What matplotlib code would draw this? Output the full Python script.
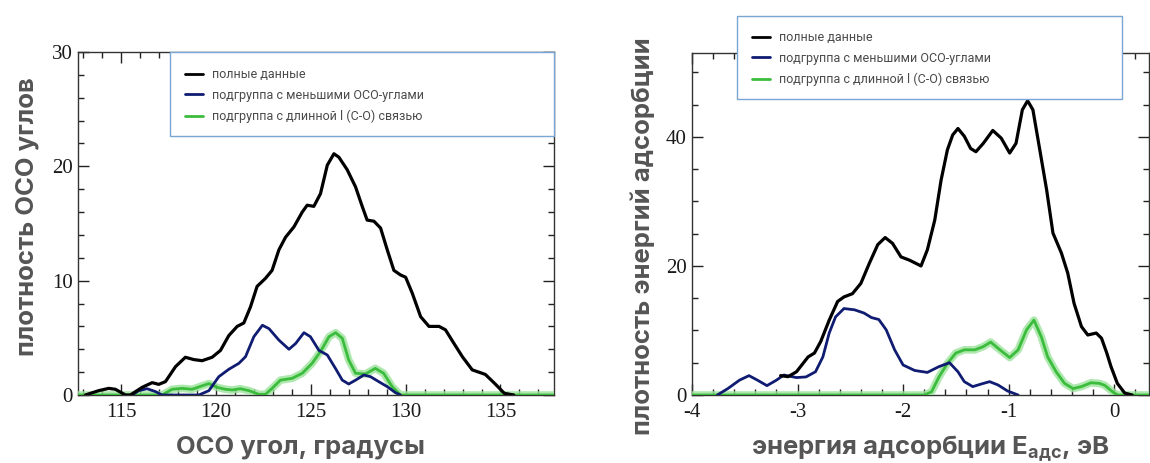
import matplotlib
matplotlib.use("Agg")
import matplotlib.pyplot as plt
import matplotlib.patheffects as pe
from matplotlib.patches import Rectangle
from matplotlib.ticker import MultipleLocator

# ---------------- data: left panel (OCO angle, degrees) ----------------
ang_total_x = [113.12, 113.82, 114.35, 114.70, 115.23, 115.49, 116.11, 116.64, 116.99, 117.34,
               117.87, 118.39, 118.83, 119.27, 119.80, 120.24, 120.68, 121.12, 121.47, 121.82,
               122.17, 122.61, 122.96, 123.32, 123.67, 124.11, 124.55, 124.81, 125.16, 125.51,
               125.87, 126.22, 126.48, 126.92, 127.36, 127.71, 127.97, 128.33, 128.68, 129.03,
               129.38, 129.73, 130.00, 130.35, 130.79, 131.23, 131.76, 132.10, 132.55, 132.99,
               133.51, 134.20, 134.70, 135.20, 135.70]
ang_total_y = [0.0, 0.38, 0.58, 0.5, 0.0, 0.0, 0.67, 1.08, 0.93, 1.17,
               2.48, 3.3, 3.1, 3.0, 3.3, 3.9, 5.2, 6.0, 6.3, 7.7,
               9.5, 10.2, 10.9, 12.7, 13.8, 14.7, 16.0, 16.6, 16.5, 17.6,
               20.1, 21.1, 20.8, 19.7, 18.2, 16.5, 15.3, 15.2, 14.6, 12.7,
               10.9, 10.5, 10.3, 8.9, 6.85, 6.0, 6.0, 5.7, 4.5, 3.35,
               2.2, 1.8, 1.0, 0.15, 0.0]

ang_small_x = [115.58, 115.93, 116.37, 116.81, 117.16, 119.10, 119.63, 120.15, 120.68, 121.21,
               121.56, 122.00, 122.45, 122.80, 123.32, 123.85, 124.20, 124.64, 124.98, 125.43,
               125.87, 126.31, 126.66, 127.00, 127.36, 127.80, 128.15, 128.60, 129.03, 129.47,
               129.73]
ang_small_y = [0.0, 0.38, 0.55, 0.3, 0.0, 0.0, 0.38, 1.6, 2.25, 2.77,
               3.35, 5.1, 6.1, 5.8, 4.8, 4.0, 4.5, 5.45, 5.1, 3.9,
               3.5, 2.3, 1.3, 0.96, 1.3, 1.75, 1.6, 1.15, 0.73, 0.2,
               0.0]

ang_long_x = [112.73, 117.16, 117.69, 118.22, 118.74, 119.27, 119.63, 120.06, 120.50, 120.85,
              121.29, 121.74, 122.26, 122.61, 122.96, 123.40, 124.02, 124.55, 125.07, 125.51,
              125.96, 126.31, 126.66, 127.00, 127.36, 127.88, 128.40, 128.84, 129.29, 129.73,
              137.82]
ang_long_y = [0.0, 0.0, 0.5, 0.58, 0.5, 0.8, 1.0, 0.67, 0.5, 0.44,
              0.55, 0.38, 0.06, 0.06, 0.58, 1.3, 1.46, 1.9, 2.77, 3.8,
              5.1, 5.45, 4.96, 3.06, 1.9, 1.84, 2.33, 1.9, 0.73, 0.0,
              0.0]

# ---------------- data: right panel (adsorption energy, eV) ----------------
en_total_x = [-3.16, -3.09, -3.01, -2.90, -2.84, -2.78, -2.70, -2.62, -2.56, -2.48,
              -2.40, -2.32, -2.24, -2.17, -2.10, -2.02, -1.94, -1.83, -1.77, -1.70,
              -1.64, -1.58, -1.53, -1.48, -1.42, -1.36, -1.31, -1.24, -1.15, -1.07,
              -0.99, -0.93, -0.87, -0.82, -0.77, -0.71, -0.64, -0.58, -0.50, -0.44,
              -0.38, -0.31, -0.25, -0.17, -0.12, -0.07, -0.03, 0.03, 0.10, 0.17]
en_total_y = [3.0, 2.84, 3.6, 5.9, 6.5, 8.3, 11.6, 14.5, 15.2, 15.7,
              17.3, 20.4, 23.3, 24.4, 23.5, 21.4, 20.9, 20.0, 22.5, 27.1,
              33.3, 38.0, 40.3, 41.3, 40.1, 38.2, 37.7, 39.0, 41.0, 39.8,
              37.5, 39.0, 44.2, 45.6, 44.2, 38.5, 31.8, 25.1, 22.0, 18.9,
              14.2, 10.6, 9.3, 9.6, 8.8, 6.5, 4.4, 1.8, 0.3, 0.0]

en_small_x = [-3.76, -3.66, -3.55, -3.46, -3.38, -3.29, -3.20, -3.13, -3.01, -2.92,
              -2.83, -2.76, -2.70, -2.64, -2.56, -2.46, -2.37, -2.30, -2.23, -2.16,
              -2.08, -2.00, -1.89, -1.77, -1.66, -1.56, -1.48, -1.42, -1.34, -1.26,
              -1.18, -1.10, -1.01, -0.91]
en_small_y = [0.0, 1.0, 2.3, 3.0, 2.3, 1.45, 2.3, 3.1, 2.7, 2.8,
              3.6, 5.9, 9.6, 12.1, 13.4, 13.2, 12.7, 12.0, 11.7, 10.1,
              7.0, 4.65, 3.8, 3.5, 4.4, 5.0, 3.6, 2.07, 1.3, 1.7,
              2.07, 1.55, 0.62, 0.0]

en_long_x = [-4.0, -1.80, -1.73, -1.66, -1.58, -1.50, -1.42, -1.32, -1.24, -1.17,
             -1.09, -0.99, -0.91, -0.83, -0.76, -0.69, -0.63, -0.55, -0.47, -0.39,
             -0.31, -0.22, -0.14, -0.09, 0.0, 0.04, 0.33]
en_long_y = [0.0, 0.0, 0.5, 2.8, 4.9, 6.5, 7.0, 7.0, 7.5, 8.2,
             7.1, 5.8, 7.0, 10.1, 11.6, 9.0, 5.9, 3.6, 1.8, 1.0,
             1.3, 1.9, 1.8, 1.5, 0.3, 0.0, 0.0]

legend_labels = ["полные данные", "подгруппа с меньшими ОСО-углами",
                 "подгруппа с длинной l (C-O) связью"]

left_xticks = [115, 120, 125, 130, 135]
left_yticks = [0, 10, 20, 30]
right_xticks = [-4, -3, -2, -1, 0]
right_yticks = [0, 20, 40]

# ---------------- styling ----------------
W, H = 1150, 463
C_BLACK = "#000000"
C_BLUE = "#0f1c72"
C_GREEN = "#3cbc3c"
C_GLOW = "#9be39b"
LABEL_C = "#555555"
TICK_FONT = "Liberation Serif"
LABEL_FONT = ["Inter", "DejaVu Sans"]

plt.rcParams["font.family"] = ["Roboto", "DejaVu Sans"]
plt.rcParams["axes.unicode_minus"] = False
plt.rcParams["mathtext.fontset"] = "custom"
plt.rcParams["mathtext.bf"] = "Inter:bold"
plt.rcParams["mathtext.rm"] = "Inter:bold"

fig = plt.figure(figsize=(W / 100, H / 100), dpi=100)


def fx(px):
    return px / W


def fy(py):
    return 1 - py / H


def make_axes(l, r, t, b):
    return fig.add_axes([fx(l), fy(b), fx(r) - fx(l), fy(t) - fy(b)])


def style(ax, xlim, ylim, xt, yt, xminor, yminor):
    ax.set_xlim(*xlim)
    ax.set_ylim(*ylim)
    ax.set_xticks(xt)
    ax.set_yticks(yt)
    ax.xaxis.set_minor_locator(MultipleLocator(xminor))
    ax.yaxis.set_minor_locator(MultipleLocator(yminor))
    ax.tick_params(which="both", direction="in", top=True, right=True,
                   color="#222222", width=1.0)
    ax.tick_params(which="major", length=8, labelsize=15, labelcolor="#1a1a1a",
                   labelfontfamily=TICK_FONT)
    ax.tick_params(which="minor", length=4)
    ax.tick_params(axis="x", pad=6)
    ax.tick_params(axis="y", pad=4)
    for s in ax.spines.values():
        s.set_color("#333333")
        s.set_linewidth(1.0)


def draw(ax, tx, ty, sx, sy, gx, gy):
    glow = [pe.Stroke(linewidth=5.5, foreground=C_GLOW, alpha=0.8), pe.Normal()]
    lg, = ax.plot(gx, gy, color=C_GREEN, lw=2.0, solid_joinstyle="round",
                  solid_capstyle="round", path_effects=glow, zorder=3)
    lb, = ax.plot(sx, sy, color=C_BLUE, lw=2.0, solid_joinstyle="round",
                  solid_capstyle="round", zorder=4)
    lk, = ax.plot(tx, ty, color=C_BLACK, lw=2.3, solid_joinstyle="round",
                  solid_capstyle="round", zorder=5)
    return lk, lb, lg


def legend_box(handles, l, r, t, b, hx, row1):
    rect = Rectangle((fx(l), fy(b)), fx(r) - fx(l), fy(t) - fy(b),
                     transform=fig.transFigure, facecolor="white",
                     edgecolor="#7aa6d4", linewidth=1.0, zorder=10)
    fig.patches.append(rect)
    leg = fig.legend(handles, legend_labels, loc="upper left",
                     bbox_to_anchor=(fx(hx), fy(row1 - 8)), frameon=False,
                     fontsize=9.0, handlelength=1.45, handletextpad=0.7,
                     labelspacing=0.62, borderaxespad=0, borderpad=0)
    leg.set_zorder(11)
    for txt in leg.get_texts():
        txt.set_color("#4a4a4a")
    for h in leg.legend_handles:
        h.set_linewidth(2.0)
        h.set_path_effects([])
    return leg


# ---------------- left panel ----------------
ax1 = make_axes(78, 554, 52, 395)
style(ax1, (112.73, 137.82), (0, 30), left_xticks, left_yticks, 1, 2)
h1 = draw(ax1, ang_total_x, ang_total_y, ang_small_x, ang_small_y, ang_long_x, ang_long_y)
legend_box(h1, 170, 554, 52, 136, 185, 76)

fig.text(fx(300), fy(447), "ОСО угол, градусы", ha="center", va="center",
         fontsize=18.5, fontweight="bold", color=LABEL_C, family=LABEL_FONT)
fig.text(fx(27), fy(217), "плотность ОСО углов", ha="center", va="center",
         rotation=90, fontsize=18.5, fontweight="bold", color=LABEL_C, family=LABEL_FONT)

# ---------------- right panel ----------------
ax2 = make_axes(692, 1149, 53, 395)
style(ax2, (-4, 0.33), (0, 53), right_xticks, right_yticks, 0.2, 5)
h2 = draw(ax2, en_total_x, en_total_y, en_small_x, en_small_y, en_long_x, en_long_y)
legend_box(h2, 737, 1122, 16, 99, 752, 39)

fig.text(fx(930), fy(448), r"энергия адсорбции $\mathbf{E}_{\mathbf{адс}}$, эВ",
         ha="center", va="center", fontsize=18.5, fontweight="bold", color=LABEL_C,
         family=LABEL_FONT)
fig.text(fx(643), fy(236), "плотность энергий адсорбции", ha="center", va="center",
         rotation=90, fontsize=18.5, fontweight="bold", color=LABEL_C, family=LABEL_FONT)

fig.savefig("out.png", dpi=100, facecolor="white")
